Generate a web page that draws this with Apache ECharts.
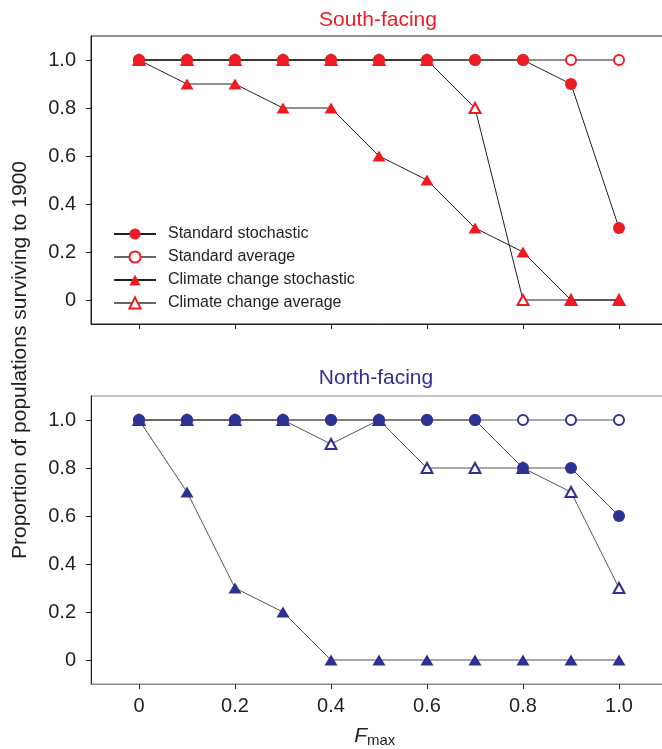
<!DOCTYPE html>
<html>
<head>
<meta charset="utf-8">
<script src="https://cdn.jsdelivr.net/npm/echarts@6/dist/echarts.min.js"></script>
<style>
html,body{margin:0;padding:0;background:#fff;}
#chart{width:662px;height:749px;}
</style>
</head>
<body>
<div id="chart"></div>
<script>
const xValues = [0, 0.1, 0.2, 0.3, 0.4, 0.5, 0.6, 0.7, 0.8, 0.9, 1.0];
const tickValues = [0, 0.2, 0.4, 0.6, 0.8, 1.0];
const tickLabels = ['0', '0.2', '0.4', '0.6', '0.8', '1.0'];
const seriesNames = ['Standard stochastic', 'Standard average', 'Climate change stochastic', 'Climate change average'];

// South-facing
const southStdStoch = [1, 1, 1, 1, 1, 1, 1, 1, 1, 0.9, 0.3];
const southStdAvg = [1, 1, 1, 1, 1, 1, 1, 1, 1, 1, 1];
const southCcStoch = [1, 0.9, 0.9, 0.8, 0.8, 0.6, 0.5, 0.3, 0.2, 0, 0];
const southCcAvg = [1, 1, 1, 1, 1, 1, 1, 0.8, 0, 0, 0];

// North-facing
const northStdStoch = [1, 1, 1, 1, 1, 1, 1, 1, 0.8, 0.8, 0.6];
const northStdAvg = [1, 1, 1, 1, 1, 1, 1, 1, 1, 1, 1];
const northCcStoch = [1, 0.7, 0.3, 0.2, 0, 0, 0, 0, 0, 0, 0];
const northCcAvg = [1, 1, 1, 1, 0.9, 1, 0.8, 0.8, 0.8, 0.7, 0.3];

const RED = '#ed1c24';
const BLUE = '#2e3192';
const DARK = '#231f20';
const GREY = '#8c8c8c';
const FONT = 'Liberation Sans, Arial, sans-serif';

function pairs(arr) { return xValues.map((x, i) => [x, arr[i]]); }
function labelFor(v) {
  const i = tickValues.findIndex(t => Math.abs(t - v) < 1e-9);
  return i >= 0 ? tickLabels[i] : '';
}

function xAxisDef(gridIndex, showLabels, lineColor) {
  return {
    type: 'value', gridIndex: gridIndex, min: -0.1, max: 1.1,
    axisLine: { show: true, onZero: false, lineStyle: { color: lineColor, width: 1 } },
    axisTick: { show: true, inside: false, length: 5, customValues: tickValues, lineStyle: { color: DARK, width: 1 } },
    axisLabel: { show: showLabels, customValues: tickValues, formatter: labelFor, margin: 12,
      fontSize: 20, color: DARK, fontFamily: FONT },
    splitLine: { show: false }
  };
}
function yAxisDef(gridIndex) {
  return {
    type: 'value', gridIndex: gridIndex, min: -0.1, max: 1.1,
    axisLine: { show: true, onZero: false, lineStyle: { color: DARK, width: 1 } },
    axisTick: { show: true, inside: false, length: 5, customValues: tickValues, lineStyle: { color: DARK, width: 1 } },
    axisLabel: { show: true, customValues: tickValues, formatter: labelFor, margin: 15,
      fontSize: 20, color: DARK, fontFamily: FONT },
    splitLine: { show: false }
  };
}

function makeSeries(name, data, idx, symbol, size, color, lineColor, z) {
  const empty = symbol.indexOf('empty') === 0;
  return {
    name: name, type: 'line', xAxisIndex: idx, yAxisIndex: idx,
    data: pairs(data), symbol: symbol, symbolSize: size, showAllSymbol: true,
    lineStyle: { color: lineColor, width: 1 },
    itemStyle: { color: color, borderColor: color, borderWidth: empty ? 1 : 0 },
    emphasis: { disabled: true }, z: z, animation: false
  };
}

const chart = echarts.init(document.getElementById('chart'), null, { renderer: 'canvas' });
const option = {
  animation: false,
  backgroundColor: '#fff',
  grid: [
    { left: 91, top: 36, width: 576, height: 288, outerBoundsMode: 'none', containLabel: false,
      show: true, borderColor: DARK, borderWidth: 1, backgroundColor: 'transparent' },
    { left: 91, top: 396, width: 576, height: 288, outerBoundsMode: 'none', containLabel: false,
      show: true, borderColor: GREY, borderWidth: 1, backgroundColor: 'transparent' }
  ],
  xAxis: [xAxisDef(0, false, DARK), xAxisDef(1, true, GREY)],
  yAxis: [yAxisDef(0), yAxisDef(1)],
  legend: {
    orient: 'vertical', left: 113, top: 226, padding: 0, itemWidth: 42, itemHeight: 14, itemGap: 7,
    data: [
      { name: seriesNames[0] },
      { name: seriesNames[1], lineStyle: { color: '#666' } },
      { name: seriesNames[2] },
      { name: seriesNames[3], lineStyle: { color: '#666' } }
    ],
    selectedMode: false,
    textStyle: { fontSize: 16, color: DARK, fontFamily: FONT, padding: [0, 0, 0, 7], lineHeight: 16 }
  },
  series: [
    makeSeries(seriesNames[1], southStdAvg, 0, 'emptyCircle', 10, RED, DARK, 2),
    makeSeries(seriesNames[3], southCcAvg, 0, 'emptyTriangle', [11, 10], RED, DARK, 3),
    makeSeries(seriesNames[2], southCcStoch, 0, 'triangle', [13, 11], RED, DARK, 4),
    makeSeries(seriesNames[0], southStdStoch, 0, 'circle', 12, RED, DARK, 5),
    makeSeries('N ' + seriesNames[1], northStdAvg, 1, 'emptyCircle', 10, BLUE, '#555', 2),
    makeSeries('N ' + seriesNames[3], northCcAvg, 1, 'emptyTriangle', [11, 10], BLUE, '#555', 3),
    makeSeries('N ' + seriesNames[2], northCcStoch, 1, 'triangle', [13, 11], BLUE, '#555', 4),
    makeSeries('N ' + seriesNames[0], northStdStoch, 1, 'circle', 12, BLUE, '#555', 5)
  ],
  graphic: [
    { type: 'text', x: 378, y: 20, style: { text: 'South-facing', fill: RED, font: '21px ' + FONT, textAlign: 'center', textVerticalAlign: 'middle' } },
    { type: 'text', x: 376, y: 378, style: { text: 'North-facing', fill: BLUE, font: '21px ' + FONT, textAlign: 'center', textVerticalAlign: 'middle' } },
    { type: 'text', x: 20, y: 360, rotation: Math.PI / 2, style: { text: 'Proportion of populations surviving to 1900', fill: DARK, font: '21px ' + FONT, textAlign: 'center', textVerticalAlign: 'middle' } },
    { type: 'text', x: 367, y: 736, style: { text: 'F', fill: DARK, font: 'italic 21px ' + FONT, textAlign: 'right', textVerticalAlign: 'middle' } },
    { type: 'text', x: 367, y: 741, style: { text: 'max', fill: DARK, font: '15px ' + FONT, textAlign: 'left', textVerticalAlign: 'middle' } }
  ]
};
chart.setOption(option);
</script>
</body>
</html>
